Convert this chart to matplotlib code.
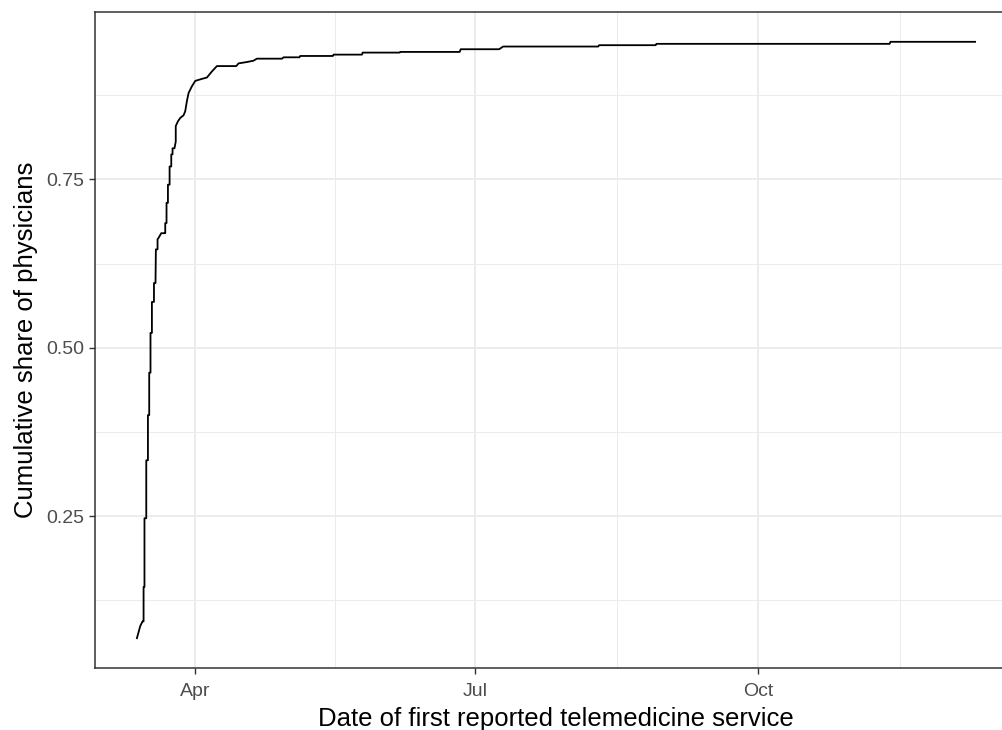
import pandas as pd
import matplotlib.pyplot as plt
import matplotlib.dates as mdates
from matplotlib.ticker import FixedLocator

# Date (and time) each share of physicians had reported a first telemedicine service
dates = [
    "2020-03-13 01:00", "2020-03-14 03:00", "2020-03-14 21:00", "2020-03-15 05:00",
    "2020-03-15 05:00", "2020-03-15 12:00", "2020-03-15 12:00", "2020-03-16 02:00",
    "2020-03-16 02:00", "2020-03-16 15:00", "2020-03-16 15:00", "2020-03-17 01:00",
    "2020-03-17 01:00", "2020-03-17 11:00", "2020-03-17 11:00", "2020-03-17 22:00",
    "2020-03-17 22:00", "2020-03-18 14:00", "2020-03-18 14:00", "2020-03-19 02:00",
    "2020-03-19 05:00", "2020-03-19 18:00", "2020-03-19 18:00", "2020-03-20 02:00",
    "2020-03-20 23:00", "2020-03-22 00:00", "2020-03-22 06:00", "2020-03-22 06:00",
    "2020-03-22 16:00", "2020-03-22 16:00", "2020-03-23 03:00", "2020-03-23 03:00",
    "2020-03-23 16:00", "2020-03-23 16:00", "2020-03-24 05:00", "2020-03-24 05:00",
    "2020-03-24 15:00", "2020-03-24 15:00", "2020-03-25 06:00", "2020-03-25 16:00",
    "2020-03-25 16:00", "2020-03-26 09:00", "2020-03-27 03:00", "2020-03-28 05:00",
    "2020-03-28 18:00", "2020-03-29 07:00", "2020-03-29 20:00", "2020-03-30 22:00",
    "2020-04-01 00:00", "2020-04-03 04:00", "2020-04-04 19:00", "2020-04-06 10:00",
    "2020-04-08 01:00", "2020-04-14 08:00", "2020-04-15 02:00", "2020-04-17 19:00",
    "2020-04-19 23:00", "2020-04-21 01:00", "2020-04-29 05:00", "2020-04-29 17:00",
    "2020-05-04 21:00", "2020-05-05 03:00", "2020-05-15 18:00", "2020-05-15 23:00",
    "2020-05-25 05:00", "2020-05-25 10:00", "2020-06-06 10:00", "2020-06-06 15:00",
    "2020-06-25 23:00", "2020-06-26 07:00", "2020-07-08 19:00", "2020-07-10 02:00",
    "2020-08-10 00:00", "2020-08-10 07:00", "2020-08-28 16:00", "2020-08-28 22:00",
    "2020-11-12 17:00", "2020-11-13 00:00", "2020-12-10 12:00",
]
shares = [
    0.069, 0.087, 0.094, 0.094,
    0.145, 0.145, 0.247, 0.247,
    0.333, 0.333, 0.400, 0.400,
    0.463, 0.463, 0.522, 0.522,
    0.568, 0.568, 0.596, 0.596,
    0.646, 0.646, 0.661, 0.663,
    0.670, 0.670, 0.670, 0.685,
    0.685, 0.715, 0.715, 0.742,
    0.742, 0.769, 0.769, 0.787,
    0.787, 0.796, 0.796, 0.806,
    0.829, 0.836, 0.841, 0.845,
    0.851, 0.866, 0.878, 0.888,
    0.896, 0.899, 0.901, 0.910,
    0.918, 0.918, 0.922, 0.924,
    0.926, 0.929, 0.929, 0.931,
    0.931, 0.933, 0.933, 0.935,
    0.935, 0.938, 0.938, 0.939,
    0.939, 0.943, 0.943, 0.947,
    0.947, 0.949, 0.949, 0.951,
    0.951, 0.954, 0.954,
]
quarter_starts = ["2020-01-01", "2020-04-01", "2020-07-01", "2020-10-01", "2021-01-01"]
y_major = [0.25, 0.50, 0.75]
y_minor = [0.125, 0.375, 0.625, 0.875]

plt.rcParams['font.family'] = ['Liberation Sans', 'DejaVu Sans']

fig = plt.figure(figsize=(10.03, 7.3), dpi=100)
# panel runs past the right edge of the canvas
ax = fig.add_axes([95 / 1003, 62 / 730, 922 / 1003, 656 / 730])

ax.plot(pd.to_datetime(dates), shares, color='black', lw=1.3, solid_joinstyle='round')
ax.margins(x=0.05, y=0.05)

# quarterly breaks with minor lines halfway between them
majors = mdates.date2num(pd.to_datetime(quarter_starts))
minors = (majors[:-1] + majors[1:]) / 2
ax.xaxis.set_major_locator(FixedLocator(majors))
ax.xaxis.set_minor_locator(FixedLocator(minors))
ax.xaxis.set_major_formatter(mdates.DateFormatter('%b'))
ax.yaxis.set_major_locator(FixedLocator(y_major))
ax.yaxis.set_minor_locator(FixedLocator(y_minor))
ax.yaxis.set_major_formatter(lambda v, pos: f"{v:.2f}")

ax.set_axisbelow(True)
ax.grid(which='major', color='#EBEBEB', lw=1.3)
ax.grid(which='minor', color='#EBEBEB', lw=0.7)
for s in ax.spines.values():
    s.set_color('#333333')
    s.set_linewidth(1.1)
ax.spines['right'].set_visible(False)

ax.tick_params(which='major', length=4, width=1, color='#333333',
               labelcolor='#4D4D4D', labelsize=14, pad=4)
ax.tick_params(axis='x', which='major', pad=7)
ax.tick_params(which='minor', length=0)

ax.set_xlabel('Date of first reported telemedicine service', fontsize=18.5, labelpad=5)
ax.set_ylabel('Cumulative share of physicians', fontsize=18.5, labelpad=6)

fig.savefig('out.png', dpi=100)
